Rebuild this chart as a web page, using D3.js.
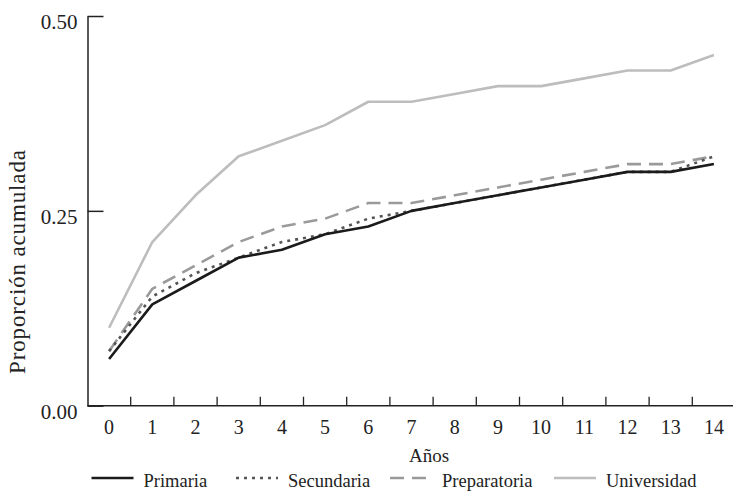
<!DOCTYPE html>
<html>
<head>
<meta charset="utf-8">
<script src="https://cdn.jsdelivr.net/npm/d3@7"></script>
<style>
  html, body { margin: 0; padding: 0; background: #fff; }
  svg { display: block; }
  svg text { font-family: "Liberation Serif", "Tinos", "Times New Roman", "DejaVu Serif", serif; }
</style>
</head>
<body>
<svg id="chart" width="733" height="491"></svg>
<script>
// Años transcurridos
const years = [0, 1, 2, 3, 4, 5, 6, 7, 8, 9, 10, 11, 12, 13, 14];

// Proporción acumulada por nivel educativo
const primaria     = [0.06, 0.13, 0.16, 0.19, 0.20, 0.22, 0.23, 0.25, 0.26, 0.27, 0.28, 0.29, 0.30, 0.30, 0.31];
const secundaria   = [0.07, 0.14, 0.17, 0.19, 0.21, 0.22, 0.24, 0.25, 0.26, 0.27, 0.28, 0.29, 0.30, 0.30, 0.32];
const preparatoria = [0.07, 0.15, 0.18, 0.21, 0.23, 0.24, 0.26, 0.26, 0.27, 0.28, 0.29, 0.30, 0.31, 0.31, 0.32];
const universidad  = [0.10, 0.21, 0.27, 0.32, 0.34, 0.36, 0.39, 0.39, 0.40, 0.41, 0.41, 0.42, 0.43, 0.43, 0.45];

const seriesNames = ["Primaria", "Secundaria", "Preparatoria", "Universidad"];
const yTicks = [0, 0.25, 0.5];

const seriesStyle = {
  "Primaria":     { values: primaria,     color: "#1b1b1b", dash: null,    width: 2.6 },
  "Secundaria":   { values: secundaria,   color: "#555555", dash: "3,5",   width: 2.6 },
  "Preparatoria": { values: preparatoria, color: "#9a9a9a", dash: "14,8",  width: 2.6 },
  "Universidad":  { values: universidad,  color: "#bdbdbd", dash: null,    width: 2.6 }
};

const serif = '"Liberation Serif", "Tinos", "Times New Roman", "DejaVu Serif", serif';
const svg = d3.select("#chart");
const axisColor = "#222";

const x = d3.scaleBand().domain(years).range([87.5, 735.5]).padding(0);
const y = d3.scaleLinear().domain([0, 0.5]).range([405.7, 16]);
const cx = d => x(d) + x.bandwidth() / 2;

// Eje Y
const yAxis = svg.append("g")
  .attr("transform", `translate(${x.range()[0]},0)`)
  .call(d3.axisLeft(y).tickValues(yTicks).tickFormat(d3.format(".2f"))
    .tickSize(-16).tickSizeOuter(0).tickPadding(10));
yAxis.attr("font-family", null).attr("font-size", null);
yAxis.select(".domain").attr("stroke", axisColor).attr("stroke-width", 1.5);
yAxis.selectAll(".tick line").attr("stroke", axisColor).attr("stroke-width", 1.5);
yAxis.selectAll(".tick text")
  .attr("fill", axisColor)
  .style("font-family", serif)
  .style("font-size", "21px")
  .attr("dy", 12.3)
  .attr("y", 0);

// Eje X: línea base, marcas entre categorías y etiquetas centradas
const xg = svg.append("g");
xg.append("line")
  .attr("x1", x.range()[0]).attr("x2", 733)
  .attr("y1", y(0)).attr("y2", y(0))
  .attr("stroke", axisColor).attr("stroke-width", 1.5);
xg.selectAll("line.tick")
  .data(years.slice(1))
  .join("line")
  .attr("class", "tick")
  .attr("x1", d => x(d)).attr("x2", d => x(d))
  .attr("y1", y(0)).attr("y2", y(0) - 9)
  .attr("stroke", axisColor).attr("stroke-width", 1.3);
xg.selectAll("text.lbl")
  .data(years)
  .join("text")
  .attr("class", "lbl")
  .attr("x", d => cx(d))
  .attr("y", 434)
  .attr("text-anchor", "middle")
  .style("font-family", serif)
  .style("font-size", "20px")
  .attr("fill", axisColor)
  .text(d => d);

// Títulos de ejes
svg.append("text")
  .attr("x", 429).attr("y", 462)
  .attr("text-anchor", "middle")
  .style("font-family", serif)
  .style("font-size", "19px")
  .attr("fill", axisColor)
  .text("Años");

svg.append("text")
  .attr("transform", "translate(25,262) rotate(-90)")
  .attr("text-anchor", "middle")
  .attr("textLength", 224)
  .attr("lengthAdjust", "spacing")
  .style("font-family", serif)
  .style("font-size", "23px")
  .attr("fill", axisColor)
  .text("Proporción acumulada");

// Líneas de cada serie (la más clara primero)
const line = d3.line()
  .x((v, i) => cx(years[i]))
  .y(v => y(v));

[...seriesNames].reverse().forEach(name => {
  const s = seriesStyle[name];
  svg.append("path")
    .datum(s.values)
    .attr("d", line)
    .attr("fill", "none")
    .attr("stroke", s.color)
    .attr("stroke-width", s.width)
    .attr("stroke-dasharray", s.dash)
    .attr("stroke-linejoin", "round");
});

// Leyenda
const legendX = [91.5, 236, 390, 554];
const legend = svg.append("g");
seriesNames.forEach((name, i) => {
  const s = seriesStyle[name];
  const g = legend.append("g").attr("transform", `translate(${legendX[i]},478)`);
  g.append("line")
    .attr("x1", 0).attr("x2", 42)
    .attr("y1", 0).attr("y2", 0)
    .attr("stroke", s.color)
    .attr("stroke-width", s.width)
    .attr("stroke-dasharray", s.dash);
  g.append("text")
    .attr("x", 52).attr("y", 9)
    .style("font-family", serif)
    .style("font-size", "18.5px")
    .attr("fill", axisColor)
    .text(name);
});
</script>
</body>
</html>
